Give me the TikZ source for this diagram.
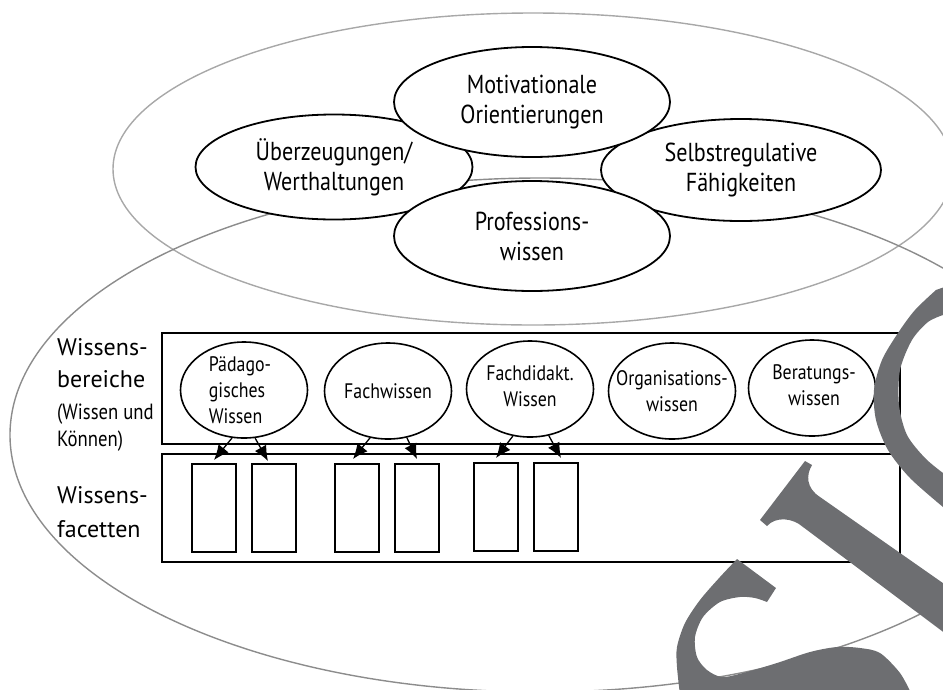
\documentclass[tikz,border=0pt]{standalone}
\usepackage{fontspec}
\setmainfont{PT Sans}
\newfontfamily\cond[FakeStretch=0.85]{PT Sans}
\usetikzlibrary{shapes.geometric,arrows.meta,calc}
\definecolor{wmgray}{HTML}{6D6E71}
\definecolor{lightring}{HTML}{A8A8A8}
\definecolor{darkring}{HTML}{8C8C8C}
\begin{document}
\begin{tikzpicture}[x=1pt,y=-1pt,
  big/.style={draw,ellipse,line width=1.8pt,fill=white,inner sep=0pt,align=center,
    font=\cond\fontsize{26}{30}\selectfont},
  small/.style={draw,ellipse,line width=1.6pt,fill=white,inner sep=0pt,
    minimum width=127pt,minimum height=96pt},
  ctext/.style={inner sep=0pt,align=center,font=\cond\fontsize{21}{26}\selectfont},
  band/.style={draw,line width=2pt,fill=white,inner sep=0pt,minimum width=738pt},
  facet/.style={draw,line width=2pt,fill=white,minimum width=44pt,minimum height=88pt,inner sep=0pt},
  arr/.style={-{Latex[length=15pt,width=13pt]},line width=1.3pt},
  side/.style={anchor=base west,inner sep=0pt,font=\fontsize{24}{30}\selectfont},
  sidesmall/.style={anchor=base west,inner sep=0pt,font=\cond\fontsize{22}{28}\selectfont}]

\useasboundingbox (0,0) rectangle (943,689);
\clip (0,0) rectangle (943,689);

% grey rings
\draw[lightring,line width=1.4pt] (533,169) ellipse [x radius=420,y radius=156];
\draw[darkring,line width=1.4pt] (540,435) ellipse [x radius=530,y radius=257];

% top cluster
\node[big,minimum width=277pt,minimum height=105pt] (ueb) at (334,167) {Überzeugungen/\\Werthaltungen};
\node[big,minimum width=280pt,minimum height=102pt] (sel) at (741,170) {Selbstregulative\\Fähigkeiten};
\node[big,minimum width=276pt,minimum height=110pt] (mot) at (532,102) {Motivationale\\Orientierungen};
\node[big,minimum width=276pt,minimum height=110pt] (pro) at (532,236) {Professions-\\wissen};

% bands
\node[band,minimum height=111pt] (wb) at (531,388.5) {};
\node[band,minimum height=108pt] (wf) at (531,508) {};

% knowledge domains
\node[small] (pad) at (244,390) {};
\node[small] (fach) at (388,391) {};
\node[small] (fdid) at (530,389) {};
\node[small] (org) at (672,391) {};
\node[small] (ber) at (812,388) {};
\node[ctext,align=left] (padt) at (240,390) {Pädago-\\gisches\\Wissen};
\node[ctext] (facht) at (fach) {Fachwissen};
\node[ctext] (fdidt) at (530,386) {Fachdidakt.\\Wissen};
\node[ctext] (orgt) at (org) {Organisations-\\wissen};
\node[ctext] (bert) at (814,385) {Beratungs-\\wissen};

% facets
\node[facet] (f1) at (214,508) {};
\node[facet] (f2) at (274,508) {};
\node[facet] (f3) at (357,508) {};
\node[facet] (f4) at (417,508) {};
\node[facet] (f5) at (496,507) {};
\node[facet] (f6) at (556,507) {};

% arrows
\draw[arr] (pad.256) -- ([yshift=3pt]f1.north);
\draw[arr] (pad.283) -- ([xshift=-6pt,yshift=2pt]f2.north);
\draw[arr] (fach.249) -- ([xshift=-4pt,yshift=4pt]f3.north);
\draw[arr] (fach.292) -- ([yshift=4pt]f4.north);
\draw[arr] (fdid.250) -- ([yshift=4pt]f5.north);
\draw[arr] (fdid.292) -- ([xshift=5pt,yshift=4pt]f6.north);

% side labels
\node[side] (wb1) at (57,355) {Wissens-};
\node[side] (wb2) at (57,387) {bereiche};
\node[sidesmall] (wb3) at (57,419) {(Wissen und};
\node[sidesmall] (wb4) at (57,446) {Können)};
\node[side] (wf1) at (57,503) {Wissens-};
\node[side] (wf2) at (57,537) {facetten};

% watermark shapes
\fill[wmgray] plot[smooth] coordinates {(936,290) (915,310) (898,333) (882,360) (874,390) (876,420) (888,450) (910,478) (943,507)}
  -- (950,507) -- (950,473) -- (943,473)
  -- plot[smooth] coordinates {(943,473) (925,458) (907,435) (899,405) (900,370) (912,340) (928,322) (943,315)}
  -- (950,315) -- (950,285) -- cycle;
\fill[wmgray] (805,461) -- (812,465) .. controls (806,475) and (806,488) .. (820,497)
  -- (950,588) -- (950,637) -- (803,527) .. controls (793,518) and (776,516) .. (767,526)
  -- (760,520) -- cycle;
\fill[wmgray] (737,559) -- (776,588) -- (767,602)
  -- plot[smooth] coordinates {(767,602) (755,598) (740,597) (720,602) (703,617) (695,637) (697,657) (707,670) (722,677) (743,673) (777,663) (810,652) (837,647) (860,648) (880,653) (900,673) (912,695)}
  -- (680,695)
  -- plot[smooth] coordinates {(680,695) (677,667) (677,647) (685,623) (700,600) (720,577) (737,559)}
  -- cycle;
\end{tikzpicture}
\end{document}
